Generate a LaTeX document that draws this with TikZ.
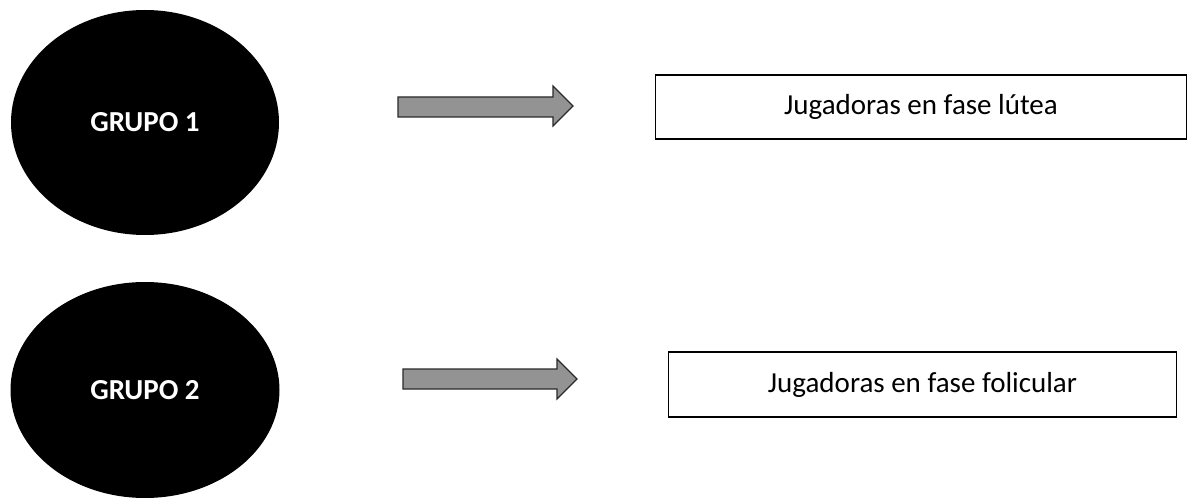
\documentclass[tikz,border=0pt]{standalone}
\usepackage{fontspec}
\setmainfont{Carlito}
\usetikzlibrary{shapes.geometric}
\definecolor{arrowfill}{HTML}{939393}
\definecolor{arrowline}{HTML}{2A2A2A}
\tikzset{
  grupo/.style={ellipse, fill=black, draw=none, inner sep=0pt, text=white, font=\fontsize{29}{31}\selectfont\bfseries},
  fasebox/.style={rectangle, draw=black, line width=1.6pt, fill=white, inner sep=0pt, font=\fontsize{29}{31}\selectfont},
  bigarrow/.style={fill=arrowfill, draw=arrowline, line width=1.1pt, line join=miter}
}
\begin{document}
\begin{tikzpicture}[x=1pt,y=-1pt]
\useasboundingbox (0,0) rectangle (1188,502);
\node[grupo, minimum width=268pt, minimum height=225pt] (g1) at (145,122.5) {GRUPO 1};
\node[grupo, minimum width=269pt, minimum height=216pt] (g2) at (145,390) {GRUPO 2};
\node[fasebox, minimum width=531pt, minimum height=64pt] (b1) at (921,107) {Jugadoras en fase lútea};
\node[fasebox, minimum width=508pt, minimum height=65pt] (b2) at (922.5,384.5) {Jugadoras en fase folicular};
\draw[bigarrow] (398,97) -- (553,97) -- (553,86) -- (573,106) -- (553,126) -- (553,117) -- (398,117) -- cycle;
\draw[bigarrow] (403,369) -- (557,369) -- (557,359) -- (577,379) -- (557,399) -- (557,389) -- (403,389) -- cycle;
\end{tikzpicture}
\end{document}
